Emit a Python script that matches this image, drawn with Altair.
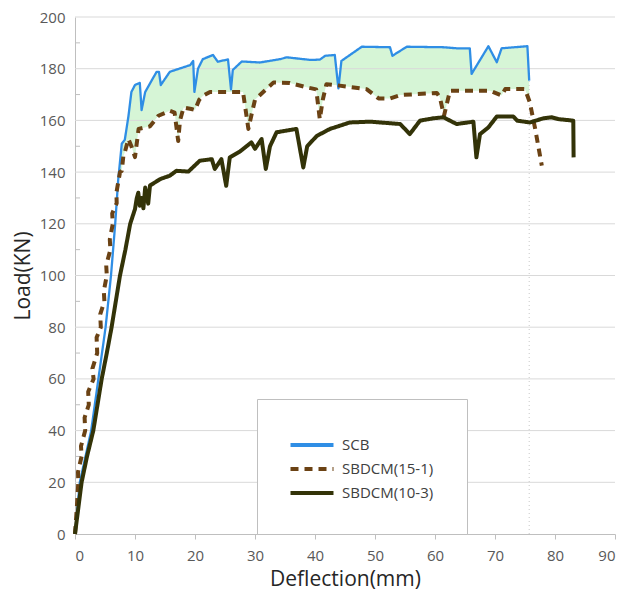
import altair as alt
import pandas as pd

# ---------------- data ----------------
series_names = ["SCB", "SBDCM(15-1)", "SBDCM(10-3)"]

scb_x = [0, 0.8, 2.7, 3.9, 5.1, 6.0, 6.7, 7.2, 7.8, 8.3, 8.9, 9.4, 10.0, 10.8, 11.1, 11.7,
         13.6, 14.0, 14.3, 15.8, 19.2, 19.7, 19.9, 20.5, 21.3, 23.0, 23.8, 25.5, 26.0, 26.3,
         27.8, 30.8, 34.2, 35.3, 39.2, 40.8, 41.7, 43.3, 43.9, 44.4, 47.8, 52.5, 52.9, 55.3,
         61.4, 63.6, 65.8, 66.1, 68.9, 70.3, 71.1, 75.4, 75.7]
scb_y = [0, 20, 40, 60, 80, 100, 120, 137, 151, 152.5, 161.5, 171, 173.7, 174.5, 164, 171,
         178.8, 178.8, 173.7, 178.8, 181.4, 183, 171, 180, 183.7, 185.3, 182.7, 183.6, 172, 179.5,
         182.8, 182.4, 183.7, 184.4, 183.4, 183.5, 185, 185.3, 172.4, 183, 188.5, 188.3, 185, 188.5,
         188.3, 187.9, 187.9, 178, 188.7, 182.5, 187.9, 188.7, 175.4]

s151_x = [0, 0.3, 0.55, 0.5, 1.1, 1.0, 1.7, 1.6, 2.3, 2.2, 3.1, 2.9, 3.7, 3.6, 4.3, 4.2, 4.9,
          4.8, 5.3, 5.2, 5.9, 5.8, 6.3, 6.2, 6.95, 6.9, 7.5, 7.8, 8.05, 8.3, 8.9, 9.4, 10.0,
          10.6, 12.5, 13.9, 15.8, 16.6, 17.2, 17.5, 18.1, 19.4, 20.0, 20.7, 21.4, 22.5, 26.1,
          28.0, 28.9, 29.4, 30.0, 33.1, 35.8, 38.6, 40.2, 40.8, 41.3, 41.9, 43.3, 48.6, 50.6,
          52.5, 54.2, 60.3, 60.8, 61.5, 62.5, 69.2, 71.1, 71.7, 75.0, 75.8, 76.7, 77.8]
s151_y = [0, 10, 20, 24, 30, 34, 40, 45, 50, 55, 60, 64, 70, 76, 80, 85, 90,
          94, 100, 104, 110, 114, 120, 124, 128, 132, 140, 140.5, 146, 147.7, 152.8, 150, 145.8,
          156.7, 157.7, 161.8, 163.7, 163, 152, 160, 165, 164.4, 164, 168, 169.6, 171, 171,
          171, 156.7, 162, 168, 174.7, 174.5, 172.8, 172, 160.5, 168, 174, 173.7, 172.1, 168.5,
          168.5, 169.8, 170.6, 169, 161.8, 171.5, 171.5, 169.6, 172.1, 172.1, 167, 156.7, 142.5]

s103_x = [0, 1.1, 2.0, 3.05, 4.45, 5.3, 6.1, 6.8, 7.5, 8.4, 9.2, 10.0, 10.3, 10.55, 10.8,
          11.1, 11.4, 11.7, 12.2, 12.5, 14.2, 15.8, 16.9, 18.9, 20.8, 22.8, 23.3, 24.4, 25.2,
          25.8, 27.5, 29.4, 30.0, 31.1, 31.8, 32.5, 33.6, 36.9, 38.05, 38.7, 40.3, 42.5, 45.8,
          49.2, 54.2, 55.8, 57.5, 59.7, 61.4, 63.6, 66.4, 66.9, 67.5, 68.9, 70.3, 73.05, 73.7,
          75.8, 78.05, 79.45, 80.55, 83.05, 83.1]
s103_y = [0, 20, 30, 40, 60, 70, 80, 90, 100, 110, 120, 125.7, 130, 132, 127,
          130, 126, 134, 127.8, 134.8, 137.3, 138.6, 140.5, 140.2, 144.4, 145, 141.2, 145, 134.7,
          145.7, 148, 151.5, 149, 152.8, 141.2, 150, 155.4, 156.7, 141.8, 150, 154, 156.7, 159.2,
          159.5, 158.6, 154.7, 159.9, 160.8, 161.2, 158.6, 159.5, 145.7, 154.7, 157.3, 161.5, 161.5, 159.9,
          159.2, 160.8, 161.2, 160.5, 159.9, 145.7]

x_ticks = list(range(0, 91, 10))
y_ticks = list(range(0, 201, 20))
y_grid = list(range(20, 201, 20))
y_minor = list(range(10, 200, 20))

series_colors = ["#2f8ee5", "#6b4214", "#333308"]
series_dash = [[1, 0], [8, 6], [1, 0]]


def frame(xs, ys, name):
    return pd.DataFrame({"x": xs, "y": ys, "series": name, "i": list(range(len(xs)))})


df_scb = frame(scb_x, scb_y, series_names[0])
df_151 = frame(s151_x, s151_y, series_names[1])
df_103 = frame(s103_x, s103_y, series_names[2])
df_end = pd.DataFrame({"x": [scb_x[-1]], "y": [0], "y2": [scb_y[-1]]})
df_grid = pd.DataFrame({"y": y_grid})
df_minor = pd.DataFrame({"y": y_minor})

FONT = "Open Sans"

X = alt.X("x:Q",
          scale=alt.Scale(domain=[0, 90], nice=False, zero=False),
          axis=alt.Axis(values=x_ticks, grid=False, title="Deflection(mm)",
                        domainColor="#bfbfbf", tickColor="#bfbfbf", tickSize=5,
                        labelFont=FONT, labelFontSize=15, labelColor="#595959", labelPadding=9,
                        titleFont=FONT, titleFontSize=21, titleFontWeight="normal",
                        titleColor="#262626", titlePadding=5))
Y = alt.Y("y:Q",
          scale=alt.Scale(domain=[0, 200], nice=False),
          axis=alt.Axis(values=y_ticks, grid=False, title="Load(KN)", ticks=False,
                        domainColor="#bfbfbf", labelPadding=10,
                        labelFont=FONT, labelFontSize=15, labelColor="#595959",
                        titleFont=FONT, titleFontSize=21, titleFontWeight="normal",
                        titleColor="#262626", titlePadding=6))

legend = alt.Legend(title=None, orient="none", legendX=182, legendY=382,
                    padding=33, strokeColor="#bfbfbf", fillColor="white",
                    symbolType="M-2,0L2,0", symbolSize=462, symbolStrokeWidth=4,
                    symbolOffset=9,
                    labelFont=FONT, labelFontSize=15, labelColor="#404040",
                    labelOffset=17, rowPadding=3, cornerRadius=0)

color = alt.Color("series:N", scale=alt.Scale(domain=series_names, range=series_colors),
                  legend=legend)
dash = alt.StrokeDash("series:N", scale=alt.Scale(domain=series_names, range=series_dash),
                      legend=legend)

fill_hi = alt.Chart(df_scb).mark_area(color="#d6f5d6", opacity=1).encode(x=X, y=Y)
fill_mask = alt.Chart(df_151).mark_area(color="white", opacity=1).encode(x=X, y=Y)

grid = alt.Chart(df_grid).mark_rule(color="#d9d9d9", strokeWidth=1).encode(y=Y)
minor = alt.Chart(df_minor).mark_rule(color="#bfbfbf", strokeWidth=1).encode(
    y=Y, x=alt.value(0), x2=alt.value(5))
end_rule = alt.Chart(df_end).mark_rule(color="#c8c8c8", strokeWidth=1, strokeDash=[1, 3]).encode(
    x=X, y=Y, y2="y2:Q")


def line(df, width):
    return alt.Chart(df).mark_line(strokeWidth=width, strokeCap="butt", strokeJoin="round").encode(
        x=X, y=Y, color=color, strokeDash=dash, order=alt.Order("i:Q"))


chart = alt.layer(
    fill_hi, fill_mask, grid, minor, end_rule,
    line(df_scb, 2.3), line(df_151, 4), line(df_103, 4),
).properties(
    width=540, height=517,
    autosize=alt.AutoSizeParams(type="none"),
    padding={"left": 75, "top": 17, "right": 12, "bottom": 67},
).configure_view(stroke=None)

chart.save("out.html", embed_options={"renderer": "svg", "actions": False})
